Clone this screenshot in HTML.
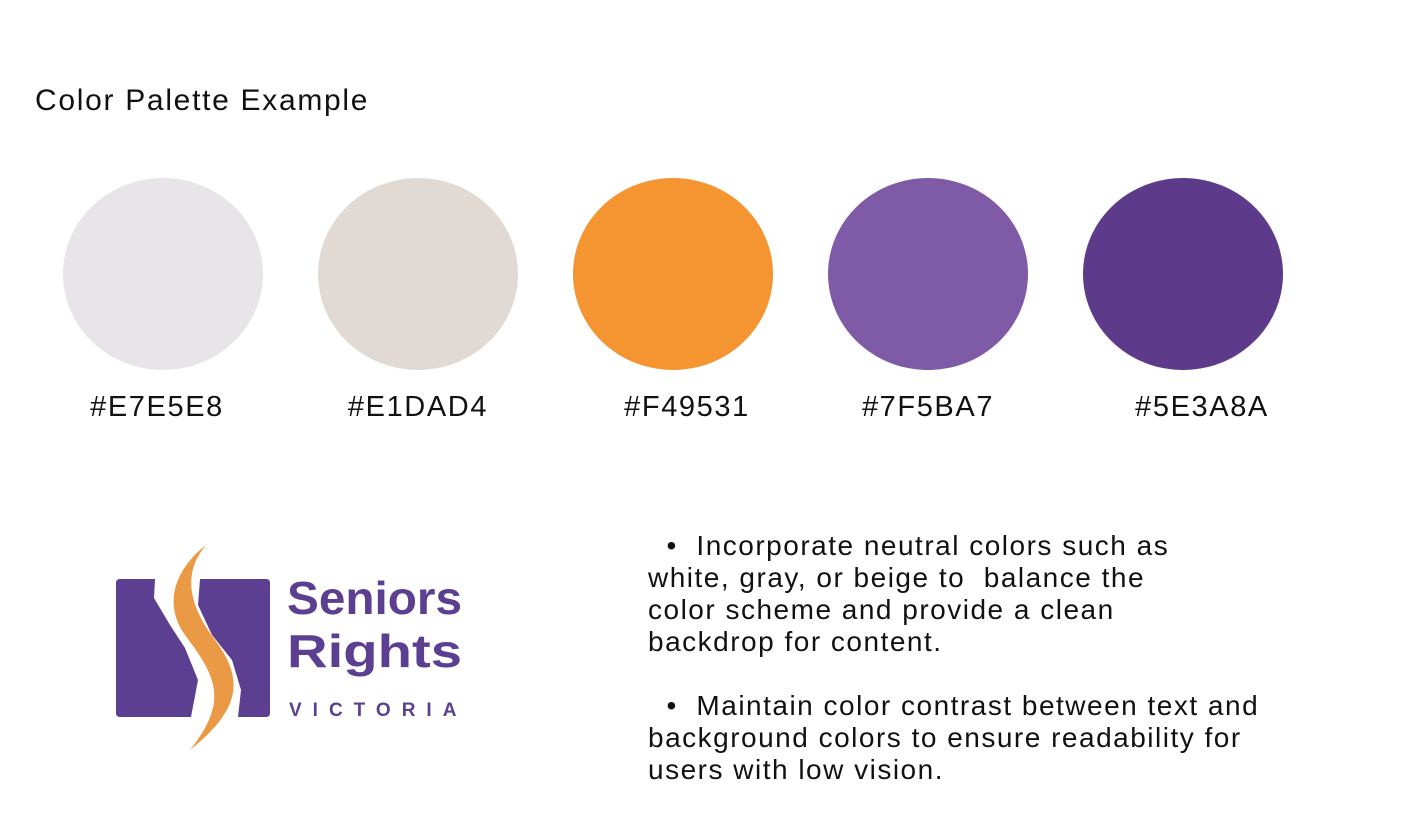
<!DOCTYPE html>
<html><head><meta charset="utf-8"><style>
html,body{margin:0;padding:0;background:#fff;}
body{width:1412px;height:833px;position:relative;overflow:hidden;font-family:"Liberation Sans",sans-serif;color:#111;}
.t{position:absolute;white-space:nowrap;}
</style></head><body>
<div class="t" style="left:35px;top:84px;font-size:30px;letter-spacing:1.7px;">Color Palette Example</div>
<svg width="1412" height="833" style="position:absolute;left:0;top:0">
<ellipse cx="163" cy="274" rx="100" ry="96" fill="#E7E5E8"/>
<ellipse cx="418" cy="274" rx="100" ry="96" fill="#E1DAD4"/>
<ellipse cx="673" cy="274" rx="100" ry="96" fill="#F49531"/>
<ellipse cx="928" cy="274" rx="100" ry="96" fill="#7F5BA7"/>
<ellipse cx="1183" cy="274" rx="100" ry="96" fill="#5E3A8A"/>
<g font-family="Liberation Sans, sans-serif" font-size="29" fill="#111" text-anchor="middle" letter-spacing="1.6">
<text x="157" y="416">#E7E5E8</text>
<text x="418" y="416">#E1DAD4</text>
<text x="687" y="416">#F49531</text>
<text x="928" y="416">#7F5BA7</text>
<text x="1202" y="416">#5E3A8A</text>
</g>
<g>
<path fill="#5C3F91" d="M120,579 L155,579 L154,598 L170,625 L185,648 L198,680 L191,717 L120,717 Q116,717 116,713 L116,583 Q116,579 120,579 Z"/>
<path fill="#5C3F91" d="M200,579 L266,579 Q270,579 270,583 L270,713 Q270,717 266,717 L238,717 L241,690 L232,660 L212,635 L198,605 Z"/>
<path fill="#EA9A45" d="M206,545 C180,565 160,600 185,635 C215,675 230,700 190,750 C240,710 245,680 215,640 C185,600 185,570 206,545 Z"/>
<text x="287" y="614" font-family="Liberation Sans, sans-serif" font-weight="bold" font-size="46" fill="#5C3F91" textLength="175" lengthAdjust="spacingAndGlyphs">Seniors</text>
<text x="287" y="667" font-family="Liberation Sans, sans-serif" font-weight="bold" font-size="46" fill="#5C3F91" textLength="175" lengthAdjust="spacingAndGlyphs">Rights</text>
<text x="289" y="716" font-family="Liberation Sans, sans-serif" font-weight="bold" font-size="19" letter-spacing="11" fill="#5C3F91">VICTORIA</text>
</g>
</svg>
<div style="position:absolute;left:648px;top:530px;font-size:28px;line-height:32px;letter-spacing:1.5px;">
<div>&nbsp;&nbsp;•&nbsp; Incorporate neutral colors such as<br>white, gray, or beige to&nbsp; balance the<br>color scheme and provide a clean<br>backdrop for content.</div>
<div style="height:32px"></div>
<div>&nbsp;&nbsp;•&nbsp; Maintain color contrast between text and<br>background colors to ensure readability for<br>users with low vision.</div>
</div>
</body></html>
